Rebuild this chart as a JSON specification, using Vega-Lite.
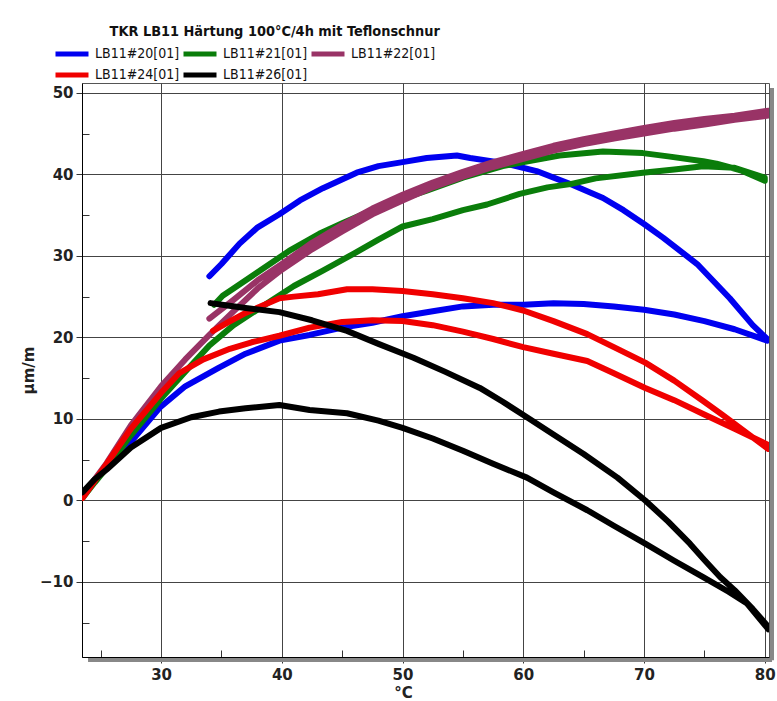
{
  "$schema": "https://vega.github.io/schema/vega-lite/v6.json",
  "width": 687,
  "height": 574,
  "autosize": {"type": "none"},
  "padding": {"left": 82, "top": 83, "right": 8, "bottom": 44},
  "background": "white",
  "config": {
    "view": {"stroke": "#555", "strokeWidth": 1},
    "font": "DejaVu Sans"
  },
  "title": {
    "text": "TKR LB11 Härtung 100°C/4h mit Teflonschnur",
    "anchor": "start",
    "dx": 88,
    "dy": 7,
    "offset": 0,
    "baseline": "alphabetic",
    "font": "DejaVu Sans Condensed, DejaVu Sans",
    "fontSize": 14.4,
    "fontWeight": "bold",
    "color": "#111"
  },
  "datasets": {
    "curves": [
      {"s":"LB11#20[01]","i":1,"x":23.5,"y":0.5},{"s":"LB11#20[01]","i":2,"x":24.5,"y":2.5},{"s":"LB11#20[01]","i":3,"x":25.5,"y":4.2},{"s":"LB11#20[01]","i":4,"x":27.4,"y":7},{"s":"LB11#20[01]","i":5,"x":29.9,"y":11.4},{"s":"LB11#20[01]","i":6,"x":32,"y":14},{"s":"LB11#20[01]","i":7,"x":34.8,"y":16.3},{"s":"LB11#20[01]","i":8,"x":37,"y":18},{"s":"LB11#20[01]","i":9,"x":39.8,"y":19.6},{"s":"LB11#20[01]","i":10,"x":42.3,"y":20.3},{"s":"LB11#20[01]","i":11,"x":45,"y":21.2},{"s":"LB11#20[01]","i":12,"x":47.5,"y":21.8},{"s":"LB11#20[01]","i":13,"x":50,"y":22.6},{"s":"LB11#20[01]","i":14,"x":52.5,"y":23.2},{"s":"LB11#20[01]","i":15,"x":55,"y":23.8},{"s":"LB11#20[01]","i":16,"x":57.5,"y":24},{"s":"LB11#20[01]","i":17,"x":60,"y":24},{"s":"LB11#20[01]","i":18,"x":62.5,"y":24.2},{"s":"LB11#20[01]","i":19,"x":65,"y":24.1},{"s":"LB11#20[01]","i":20,"x":67.5,"y":23.8},{"s":"LB11#20[01]","i":21,"x":70,"y":23.4},{"s":"LB11#20[01]","i":22,"x":72.5,"y":22.8},{"s":"LB11#20[01]","i":23,"x":75,"y":22},{"s":"LB11#20[01]","i":24,"x":77.5,"y":21},{"s":"LB11#20[01]","i":25,"x":80.2,"y":19.6},
      {"s":"LB11#20[01]","i":26,"x":80.2,"y":19.8},{"s":"LB11#20[01]","i":27,"x":79,"y":21.5},{"s":"LB11#20[01]","i":28,"x":77.1,"y":24.8},{"s":"LB11#20[01]","i":29,"x":74.4,"y":29},{"s":"LB11#20[01]","i":30,"x":71.6,"y":32.2},{"s":"LB11#20[01]","i":31,"x":70,"y":33.9},{"s":"LB11#20[01]","i":32,"x":68.3,"y":35.6},{"s":"LB11#20[01]","i":33,"x":66.6,"y":37.1},{"s":"LB11#20[01]","i":34,"x":63.9,"y":38.8},{"s":"LB11#20[01]","i":35,"x":61.1,"y":40.4},{"s":"LB11#20[01]","i":36,"x":58.3,"y":41.4},{"s":"LB11#20[01]","i":37,"x":55.6,"y":42},{"s":"LB11#20[01]","i":38,"x":54.5,"y":42.3},{"s":"LB11#20[01]","i":39,"x":52,"y":42},{"s":"LB11#20[01]","i":40,"x":50,"y":41.5},{"s":"LB11#20[01]","i":41,"x":48,"y":41},{"s":"LB11#20[01]","i":42,"x":46.2,"y":40.2},{"s":"LB11#20[01]","i":43,"x":43.4,"y":38.3},{"s":"LB11#20[01]","i":44,"x":41.5,"y":36.8},{"s":"LB11#20[01]","i":45,"x":39.8,"y":35.1},{"s":"LB11#20[01]","i":46,"x":38,"y":33.5},{"s":"LB11#20[01]","i":47,"x":36.5,"y":31.5},{"s":"LB11#20[01]","i":48,"x":35,"y":29},{"s":"LB11#20[01]","i":49,"x":34,"y":27.5},

      {"s":"LB11#21[01]","i":1,"x":23.5,"y":0.3},{"s":"LB11#21[01]","i":2,"x":24.5,"y":2.2},{"s":"LB11#21[01]","i":3,"x":25.5,"y":4},{"s":"LB11#21[01]","i":4,"x":27.5,"y":8},{"s":"LB11#21[01]","i":5,"x":30,"y":12.5},{"s":"LB11#21[01]","i":6,"x":32,"y":15.8},{"s":"LB11#21[01]","i":7,"x":34,"y":19},{"s":"LB11#21[01]","i":8,"x":36,"y":21.5},{"s":"LB11#21[01]","i":9,"x":38.7,"y":24.1},{"s":"LB11#21[01]","i":10,"x":41,"y":26.3},{"s":"LB11#21[01]","i":11,"x":43.4,"y":28.2},{"s":"LB11#21[01]","i":12,"x":46,"y":30.3},{"s":"LB11#21[01]","i":13,"x":48,"y":32},{"s":"LB11#21[01]","i":14,"x":50,"y":33.6},{"s":"LB11#21[01]","i":15,"x":52.5,"y":34.5},{"s":"LB11#21[01]","i":16,"x":55,"y":35.6},{"s":"LB11#21[01]","i":17,"x":57,"y":36.3},{"s":"LB11#21[01]","i":18,"x":59.7,"y":37.6},{"s":"LB11#21[01]","i":19,"x":62,"y":38.4},{"s":"LB11#21[01]","i":20,"x":63.9,"y":38.8},{"s":"LB11#21[01]","i":21,"x":66,"y":39.5},{"s":"LB11#21[01]","i":22,"x":69.9,"y":40.2},{"s":"LB11#21[01]","i":23,"x":72.5,"y":40.6},{"s":"LB11#21[01]","i":24,"x":74.9,"y":41},{"s":"LB11#21[01]","i":25,"x":77.5,"y":40.8},{"s":"LB11#21[01]","i":26,"x":80,"y":39.6},
      {"s":"LB11#21[01]","i":27,"x":80,"y":39.2},{"s":"LB11#21[01]","i":28,"x":78,"y":40.5},{"s":"LB11#21[01]","i":29,"x":76,"y":41.3},{"s":"LB11#21[01]","i":30,"x":74.9,"y":41.6},{"s":"LB11#21[01]","i":31,"x":72,"y":42.2},{"s":"LB11#21[01]","i":32,"x":69.9,"y":42.6},{"s":"LB11#21[01]","i":33,"x":66.6,"y":42.8},{"s":"LB11#21[01]","i":34,"x":63,"y":42.3},{"s":"LB11#21[01]","i":35,"x":59.7,"y":41.4},{"s":"LB11#21[01]","i":36,"x":58.3,"y":41},{"s":"LB11#21[01]","i":37,"x":55,"y":39.6},{"s":"LB11#21[01]","i":38,"x":52,"y":38},{"s":"LB11#21[01]","i":39,"x":50,"y":37},{"s":"LB11#21[01]","i":40,"x":47,"y":35.3},{"s":"LB11#21[01]","i":41,"x":45,"y":34},{"s":"LB11#21[01]","i":42,"x":43.1,"y":32.7},{"s":"LB11#21[01]","i":43,"x":40.6,"y":30.6},{"s":"LB11#21[01]","i":44,"x":37.9,"y":27.9},{"s":"LB11#21[01]","i":45,"x":36,"y":26},{"s":"LB11#21[01]","i":46,"x":35.1,"y":25.1},{"s":"LB11#21[01]","i":47,"x":34.4,"y":24},

      {"s":"LB11#22[01]","i":1,"x":23.5,"y":0.5},{"s":"LB11#22[01]","i":2,"x":24.5,"y":2.6},{"s":"LB11#22[01]","i":3,"x":25.5,"y":4.6},{"s":"LB11#22[01]","i":4,"x":27.5,"y":9.2},{"s":"LB11#22[01]","i":5,"x":30,"y":14},{"s":"LB11#22[01]","i":6,"x":32,"y":17.3},{"s":"LB11#22[01]","i":7,"x":34,"y":20.3},{"s":"LB11#22[01]","i":8,"x":36,"y":23.2},{"s":"LB11#22[01]","i":9,"x":38,"y":26},{"s":"LB11#22[01]","i":10,"x":40,"y":28.3},{"s":"LB11#22[01]","i":11,"x":42.5,"y":30.8},{"s":"LB11#22[01]","i":12,"x":45,"y":33},{"s":"LB11#22[01]","i":13,"x":47.5,"y":35.1},{"s":"LB11#22[01]","i":14,"x":50,"y":36.8},{"s":"LB11#22[01]","i":15,"x":52.5,"y":38.4},{"s":"LB11#22[01]","i":16,"x":55,"y":39.7},{"s":"LB11#22[01]","i":17,"x":57.5,"y":40.9},{"s":"LB11#22[01]","i":18,"x":60,"y":41.9},{"s":"LB11#22[01]","i":19,"x":62.5,"y":42.9},{"s":"LB11#22[01]","i":20,"x":65,"y":43.7},{"s":"LB11#22[01]","i":21,"x":67.5,"y":44.4},{"s":"LB11#22[01]","i":22,"x":70,"y":45},{"s":"LB11#22[01]","i":23,"x":72.5,"y":45.6},{"s":"LB11#22[01]","i":24,"x":75,"y":46.1},{"s":"LB11#22[01]","i":25,"x":77.5,"y":46.7},{"s":"LB11#22[01]","i":26,"x":80.3,"y":47.2},
      {"s":"LB11#22[01]","i":27,"x":80.3,"y":47.8},{"s":"LB11#22[01]","i":28,"x":77.5,"y":47.2},{"s":"LB11#22[01]","i":29,"x":75,"y":46.8},{"s":"LB11#22[01]","i":30,"x":72.5,"y":46.3},{"s":"LB11#22[01]","i":31,"x":70,"y":45.7},{"s":"LB11#22[01]","i":32,"x":67.5,"y":45},{"s":"LB11#22[01]","i":33,"x":65,"y":44.3},{"s":"LB11#22[01]","i":34,"x":62.5,"y":43.5},{"s":"LB11#22[01]","i":35,"x":60,"y":42.5},{"s":"LB11#22[01]","i":36,"x":57.5,"y":41.5},{"s":"LB11#22[01]","i":37,"x":55,"y":40.3},{"s":"LB11#22[01]","i":38,"x":52.5,"y":39},{"s":"LB11#22[01]","i":39,"x":50,"y":37.5},{"s":"LB11#22[01]","i":40,"x":47.5,"y":35.8},{"s":"LB11#22[01]","i":41,"x":45,"y":33.8},{"s":"LB11#22[01]","i":42,"x":42.5,"y":31.6},{"s":"LB11#22[01]","i":43,"x":40,"y":29},{"s":"LB11#22[01]","i":44,"x":38,"y":27},{"s":"LB11#22[01]","i":45,"x":36,"y":24.6},{"s":"LB11#22[01]","i":46,"x":34,"y":22.3},

      {"s":"LB11#24[01]","i":1,"x":23.5,"y":0.3},{"s":"LB11#24[01]","i":2,"x":24.5,"y":2.4},{"s":"LB11#24[01]","i":3,"x":25.5,"y":4.5},{"s":"LB11#24[01]","i":4,"x":27.5,"y":8.8},{"s":"LB11#24[01]","i":5,"x":30,"y":13.2},{"s":"LB11#24[01]","i":6,"x":31.5,"y":15.6},{"s":"LB11#24[01]","i":7,"x":33.5,"y":17.3},{"s":"LB11#24[01]","i":8,"x":35.7,"y":18.6},{"s":"LB11#24[01]","i":9,"x":37.5,"y":19.4},{"s":"LB11#24[01]","i":10,"x":39.8,"y":20.2},{"s":"LB11#24[01]","i":11,"x":42.3,"y":21.2},{"s":"LB11#24[01]","i":12,"x":45,"y":21.9},{"s":"LB11#24[01]","i":13,"x":47.5,"y":22.1},{"s":"LB11#24[01]","i":14,"x":50,"y":22},{"s":"LB11#24[01]","i":15,"x":52.5,"y":21.5},{"s":"LB11#24[01]","i":16,"x":55,"y":20.7},{"s":"LB11#24[01]","i":17,"x":57.5,"y":19.8},{"s":"LB11#24[01]","i":18,"x":60,"y":18.8},{"s":"LB11#24[01]","i":19,"x":62.5,"y":18},{"s":"LB11#24[01]","i":20,"x":65.3,"y":17.1},{"s":"LB11#24[01]","i":21,"x":67.5,"y":15.6},{"s":"LB11#24[01]","i":22,"x":70.1,"y":13.8},{"s":"LB11#24[01]","i":23,"x":72.5,"y":12.3},{"s":"LB11#24[01]","i":24,"x":74.9,"y":10.6},{"s":"LB11#24[01]","i":25,"x":77.5,"y":8.8},{"s":"LB11#24[01]","i":26,"x":80.3,"y":6.8},
      {"s":"LB11#24[01]","i":27,"x":80.3,"y":6.3},{"s":"LB11#24[01]","i":28,"x":78.5,"y":8.3},{"s":"LB11#24[01]","i":29,"x":76.5,"y":10.5},{"s":"LB11#24[01]","i":30,"x":74.9,"y":12.2},{"s":"LB11#24[01]","i":31,"x":72.5,"y":14.7},{"s":"LB11#24[01]","i":32,"x":70.1,"y":16.9},{"s":"LB11#24[01]","i":33,"x":67.5,"y":18.8},{"s":"LB11#24[01]","i":34,"x":65.3,"y":20.4},{"s":"LB11#24[01]","i":35,"x":62.5,"y":22},{"s":"LB11#24[01]","i":36,"x":60,"y":23.3},{"s":"LB11#24[01]","i":37,"x":57.5,"y":24.2},{"s":"LB11#24[01]","i":38,"x":55,"y":24.8},{"s":"LB11#24[01]","i":39,"x":52.5,"y":25.3},{"s":"LB11#24[01]","i":40,"x":50,"y":25.7},{"s":"LB11#24[01]","i":41,"x":47.5,"y":25.9},{"s":"LB11#24[01]","i":42,"x":45.4,"y":25.9},{"s":"LB11#24[01]","i":43,"x":43,"y":25.3},{"s":"LB11#24[01]","i":44,"x":41,"y":25},{"s":"LB11#24[01]","i":45,"x":39.8,"y":24.8},{"s":"LB11#24[01]","i":46,"x":37,"y":23},{"s":"LB11#24[01]","i":47,"x":35.5,"y":21.8},{"s":"LB11#24[01]","i":48,"x":34.3,"y":20.8},

      {"s":"LB11#26[01]","i":1,"x":23.5,"y":1},{"s":"LB11#26[01]","i":2,"x":24.5,"y":2.6},{"s":"LB11#26[01]","i":3,"x":25.5,"y":3.8},{"s":"LB11#26[01]","i":4,"x":27.5,"y":6.5},{"s":"LB11#26[01]","i":5,"x":30,"y":8.9},{"s":"LB11#26[01]","i":6,"x":32.5,"y":10.2},{"s":"LB11#26[01]","i":7,"x":34.8,"y":10.9},{"s":"LB11#26[01]","i":8,"x":37,"y":11.3},{"s":"LB11#26[01]","i":9,"x":39.8,"y":11.7},{"s":"LB11#26[01]","i":10,"x":42.3,"y":11.1},{"s":"LB11#26[01]","i":11,"x":45.4,"y":10.7},{"s":"LB11#26[01]","i":12,"x":48,"y":9.8},{"s":"LB11#26[01]","i":13,"x":50,"y":8.9},{"s":"LB11#26[01]","i":14,"x":52.5,"y":7.6},{"s":"LB11#26[01]","i":15,"x":55,"y":6.1},{"s":"LB11#26[01]","i":16,"x":57.5,"y":4.5},{"s":"LB11#26[01]","i":17,"x":60.3,"y":2.8},{"s":"LB11#26[01]","i":18,"x":62.5,"y":1},{"s":"LB11#26[01]","i":19,"x":65.3,"y":-1.2},{"s":"LB11#26[01]","i":20,"x":67.5,"y":-3.1},{"s":"LB11#26[01]","i":21,"x":70.1,"y":-5.3},{"s":"LB11#26[01]","i":22,"x":72.5,"y":-7.4},{"s":"LB11#26[01]","i":23,"x":74.9,"y":-9.4},{"s":"LB11#26[01]","i":24,"x":77,"y":-11.2},{"s":"LB11#26[01]","i":25,"x":78.5,"y":-12.6},{"s":"LB11#26[01]","i":26,"x":80.3,"y":-15.8},
      {"s":"LB11#26[01]","i":27,"x":80.3,"y":-15.5},{"s":"LB11#26[01]","i":28,"x":79,"y":-13.3},{"s":"LB11#26[01]","i":29,"x":77.5,"y":-11},{"s":"LB11#26[01]","i":30,"x":76.3,"y":-9.4},{"s":"LB11#26[01]","i":31,"x":75,"y":-7.3},{"s":"LB11#26[01]","i":32,"x":73.8,"y":-5.3},{"s":"LB11#26[01]","i":33,"x":72,"y":-2.6},{"s":"LB11#26[01]","i":34,"x":70.1,"y":0},{"s":"LB11#26[01]","i":35,"x":67.8,"y":2.8},{"s":"LB11#26[01]","i":36,"x":65,"y":5.7},{"s":"LB11#26[01]","i":37,"x":62.5,"y":8.1},{"s":"LB11#26[01]","i":38,"x":60.3,"y":10.2},{"s":"LB11#26[01]","i":39,"x":58.3,"y":12.1},{"s":"LB11#26[01]","i":40,"x":56.4,"y":13.8},{"s":"LB11#26[01]","i":41,"x":53.5,"y":15.8},{"s":"LB11#26[01]","i":42,"x":50.9,"y":17.5},{"s":"LB11#26[01]","i":43,"x":48,"y":19.2},{"s":"LB11#26[01]","i":44,"x":45.4,"y":20.8},{"s":"LB11#26[01]","i":45,"x":42.5,"y":22.1},{"s":"LB11#26[01]","i":46,"x":39.8,"y":23.1},{"s":"LB11#26[01]","i":47,"x":37,"y":23.6},{"s":"LB11#26[01]","i":48,"x":35.5,"y":23.9},{"s":"LB11#26[01]","i":49,"x":34.1,"y":24.2}
    ]
  },
  "layer": [
    {
      "data": {"values": [{}]},
      "mark": {"type": "rule", "color": "#888", "strokeWidth": 4, "clip": false},
      "encoding": {
        "y": {"datum": -19.2, "type": "quantitative", "scale": {"domain": [-19.2, 51.2], "nice": false, "zero": false}},
        "yOffset": {"value": 3},
        "x": {"datum": 23.95, "type": "quantitative", "scale": {"domain": [23.45, 80.35], "nice": false, "zero": false}},
        "x2": {"datum": 80.6}
      }
    },
    {
      "data": {"values": [{}]},
      "mark": {"type": "rule", "color": "#888", "strokeWidth": 4, "clip": false, "xOffset": 3},
      "encoding": {
        "x": {"datum": 80.35, "type": "quantitative"},
        "y": {"datum": 50.6, "type": "quantitative"},
        "y2": {"datum": -19.6}
      }
    },
    {
      "data": {"name": "curves"},
      "mark": {"type": "line", "strokeWidth": 6, "strokeJoin": "round", "strokeCap": "round", "clip": true},
      "encoding": {
        "x": {
          "field": "x", "type": "quantitative",
          "scale": {"domain": [23.45, 80.35], "nice": false, "zero": false},
          "axis": {
            "title": "°C",
            "values": [25, 30, 35, 40, 45, 50, 55, 60, 65, 70, 75, 80],
            "labelExpr": "datum.value % 10 === 0 ? datum.label : ''",
            "grid": true,
            "gridColor": "#444",
            "gridOpacity": {"condition": {"test": "datum.value % 10 === 0", "value": 1}, "value": 0},
            "tickSize": {"condition": {"test": "datum.value % 10 === 0", "value": 6}, "value": -7},
            "tickColor": "#333",
            "domainColor": "#000",
            "labelFont": "DejaVu Sans",
            "labelFontWeight": "bold",
            "labelFontSize": 15,
            "labelColor": "#222",
            "labelPadding": 4,
            "labelFlush": false,
            "titleFont": "DejaVu Sans",
            "titleFontWeight": "bold",
            "titleFontSize": 15,
            "titleColor": "#222",
            "titlePadding": 3,
            "titleX": 321
          }
        },
        "y": {
          "field": "y", "type": "quantitative",
          "scale": {"domain": [-19.2, 51.2], "nice": false, "zero": false},
          "axis": {
            "title": "µm/m",
            "values": [-15, -10, -5, 0, 5, 10, 15, 20, 25, 30, 35, 40, 45, 50],
            "labelExpr": "datum.value % 10 === 0 ? datum.label : ''",
            "grid": true,
            "gridColor": "#444",
            "gridOpacity": {"condition": {"test": "datum.value % 10 === 0", "value": 1}, "value": 0},
            "tickSize": {"condition": {"test": "datum.value % 10 === 0", "value": 6}, "value": -7},
            "tickColor": "#333",
            "domainColor": "#000",
            "labelFont": "DejaVu Sans",
            "labelFontWeight": "bold",
            "labelFontSize": 15,
            "labelColor": "#222",
            "labelPadding": 3,
            "labelFlush": false,
            "titleFont": "DejaVu Sans",
            "titleFontWeight": "bold",
            "titleFontSize": 15,
            "titleColor": "#222",
            "titlePadding": 3
          }
        },
        "color": {
          "field": "s", "type": "nominal",
          "scale": {
            "domain": ["LB11#20[01]", "LB11#21[01]", "LB11#22[01]", "LB11#24[01]", "LB11#26[01]"],
            "range": ["#0000f0", "#0a7d0a", "#993366", "#f00000", "#000000"]
          },
          "legend": {
            "title": null,
            "orient": "none",
            "legendX": -21,
            "legendY": -40,
            "direction": "horizontal",
            "columns": 3,
            "columnPadding": -7,
            "rowPadding": -4,
            "symbolType": "M-1.941,0H1.941",
            "symbolSize": 289,
            "symbolStrokeWidth": 5,
            "labelOffset": 12,
            "labelFont": "DejaVu Sans Condensed, DejaVu Sans",
            "labelFontSize": 14,
            "labelColor": "#111"
          }
        },
        "order": {"field": "i", "type": "quantitative"}
      }
    }
  ]
}
